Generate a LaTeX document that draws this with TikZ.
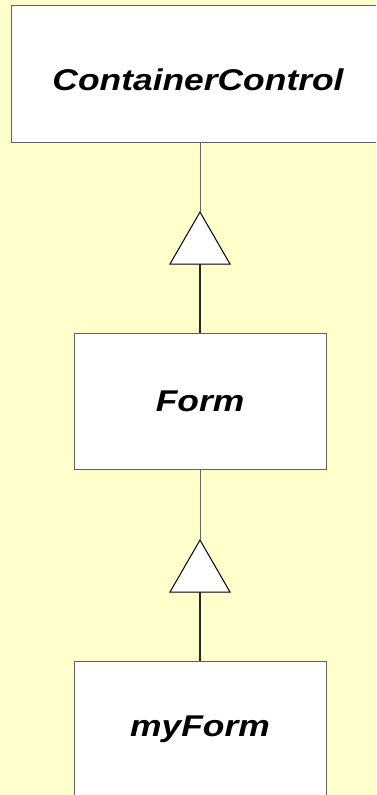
\documentclass[tikz,border=0pt]{standalone}
\usepackage{fontspec}
\usetikzlibrary{shapes.geometric}
\newfontfamily\umlfont[FakeStretch=1.18]{Liberation Sans}
\definecolor{notebg}{HTML}{FFFFCC}
\definecolor{boxline}{HTML}{606060}
\begin{document}
\begin{tikzpicture}[x=1pt,y=-1pt]
	\tikzstyle{classbox}=[draw=boxline,line width=1pt,fill=white,rectangle,inner sep=0pt,outer sep=0pt,font=\umlfont\bfseries\itshape\fontsize{30}{35}\selectfont];
	\tikzstyle{gen}=[draw=black,line width=1pt,fill=white,regular polygon,regular polygon sides=3,minimum size=69.3pt,inner sep=0pt,outer sep=0pt];
	\tikzstyle{uplink}=[draw=black!60,line width=1pt];
	\tikzstyle{lowlink}=[draw=black!85,line width=1.2pt];

	\fill[notebg] (0,0) rectangle (376,795);
	\useasboundingbox (0,0) rectangle (376,795);
	\clip (0,0) rectangle (376,795);

	\node at (200, 73.5) (cc) [classbox,minimum width=378pt,minimum height=137pt] {};
	\node at (198, 80) (cclabel) [font=\umlfont\bfseries\itshape\fontsize{30}{35}\selectfont,inner sep=0pt] {ContainerControl};
	\node at (200, 401) (form) [classbox,minimum width=252pt,minimum height=136pt] {Form};
	\node at (200, 729) (myform) [classbox,minimum width=252pt,minimum height=136pt] {myForm};

	\node at (200, 246.7) (gen1) [gen] {};
	\node at (200, 574.7) (gen2) [gen] {};

	\draw[uplink] (cc.south) -- (gen1.corner 1);
	\draw[lowlink] (gen1.side 2) -- (form.north);
	\draw[uplink] (form.south) -- (gen2.corner 1);
	\draw[lowlink] (gen2.side 2) -- (myform.north);
\end{tikzpicture}
\end{document}
